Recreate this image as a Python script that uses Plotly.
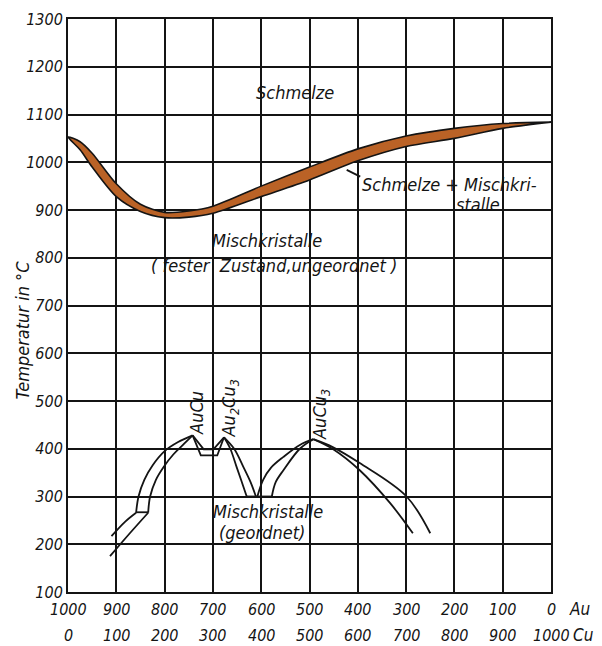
import plotly.graph_objects as go

# ---------------- data ----------------
x_ticks_cu = [0, 100, 200, 300, 400, 500, 600, 700, 800, 900, 1000]
x_labels_au = ["1000", "900", "800", "700", "600", "500", "400", "300", "200", "100", "0"]
x_labels_cu = ["0", "100", "200", "300", "400", "500", "600", "700", "800", "900", "1000"]
y_ticks = [100, 200, 300, 400, 500, 600, 700, 800, 900, 1000, 1100, 1200, 1300]

band_cu = [0, 25, 50, 100, 150, 200, 250, 300, 400, 500, 600, 700, 800, 900, 1000]
liquidus = [1053, 1043, 1019, 955, 912, 895, 898, 908, 950, 990, 1028, 1055, 1071, 1081, 1084]
solidus = [1053, 1026, 990, 928, 897, 884, 885, 893, 928, 963, 1003, 1033, 1050, 1071, 1084]

# ordered-phase boundaries (Cu per mille, temperature)
aucu_left_outer_cu = [141, 146, 158, 175, 200, 228, 258]
aucu_left_outer_t = [266, 300, 335, 365, 395, 414, 428]
aucu_left_inner_cu = [166, 170, 182, 198, 218, 240, 258]
aucu_left_inner_t = [266, 300, 335, 362, 388, 410, 428]
step_cu = [141, 166]
step_t = [267, 267]
tail_upper_cu = [141, 118, 90]
tail_upper_t = [266, 247, 217]
tail_lower_cu = [166, 128, 87]
tail_lower_t = [266, 223, 175]
v_outer_cu = [258, 275, 309, 323]
v_outer_t = [428, 386, 386, 424]
v_inner_cu = [258, 281, 301, 323]
v_inner_t = [428, 399, 399, 424]
d1_cu = [323, 336, 349, 360, 370]
d1_t = [424, 400, 362, 330, 300]
d2_cu = [323, 344, 363, 378, 389]
d2_t = [424, 400, 362, 330, 300]
bottom_cu = [370, 422]
bottom_t = [300, 300]
r1_cu = [392, 404, 420, 446, 480, 508]
r1_t = [300, 335, 360, 383, 408, 420]
r2_cu = [422, 430, 446, 480, 508]
r2_t = [300, 330, 355, 400, 420]
e1_cu = [508, 549, 604, 667, 714]
e1_t = [420, 399, 355, 286, 223]
e2_cu = [508, 549, 604, 701, 750]
e2_t = [420, 403, 370, 300, 223]

leader_cu = [577, 605]
leader_t = [984, 970]

# labels: (text, cu, T, xanchor, angle)
labels = [
    ("Schmelze", 469, 1147, "center", 0),
    ("Schmelze + Mischkri-", 605, 954, "left", 0),
    ("stalle", 800, 912, "left", 0),
    ("Mischkristalle", 411, 837, "center", 0),
    ("( fester  Zustand,ungeordnet )", 426, 783, "center", 0),
    ("AuCu", 266, 476, "center", -90),
    ("Au<sub>2</sub>Cu<sub>3</sub>", 335, 484, "center", -90),
    ("AuCu<sub>3</sub>", 525, 472, "center", -90),
    ("Mischkristalle", 415, 268, "center", 0),
    ("(geordnet)", 401, 224, "center", 0),
]

FONT = "DejaVu Sans Condensed, DejaVu Sans, sans-serif"
INK = "#141414"

fig = go.Figure()

# liquidus / solidus band
fig.add_trace(go.Scatter(
    x=band_cu + band_cu[::-1], y=liquidus + solidus[::-1],
    mode="lines", fill="toself", fillcolor="rgb(186,98,38)",
    line=dict(color=INK, width=1.6, shape="spline", smoothing=0.8),
    hoverinfo="skip", showlegend=False))

curves = [
    (aucu_left_outer_cu, aucu_left_outer_t, "spline"),
    (aucu_left_inner_cu, aucu_left_inner_t, "spline"),
    (step_cu, step_t, "linear"),
    (tail_upper_cu, tail_upper_t, "spline"),
    (tail_lower_cu, tail_lower_t, "spline"),
    (v_outer_cu, v_outer_t, "linear"),
    (v_inner_cu, v_inner_t, "linear"),
    (d1_cu, d1_t, "spline"),
    (d2_cu, d2_t, "spline"),
    (bottom_cu, bottom_t, "linear"),
    (r1_cu, r1_t, "spline"),
    (r2_cu, r2_t, "spline"),
    (e1_cu, e1_t, "spline"),
    (e2_cu, e2_t, "spline"),
    (leader_cu, leader_t, "linear"),
]
for cx, ct, shp in curves:
    fig.add_trace(go.Scatter(x=cx, y=ct, mode="lines",
                             line=dict(color=INK, width=1.8, shape=shp),
                             hoverinfo="skip", showlegend=False))

annotations = []
for txt, cx, ct, xa, ang in labels:
    annotations.append(dict(x=cx, y=ct, xref="x", yref="y", text=txt,
                            showarrow=False, xanchor=xa, yanchor="middle",
                            textangle=ang,
                            font=dict(family=FONT, size=18, color=INK, style="italic")))

for cv, la, lc in zip(x_ticks_cu, x_labels_au, x_labels_cu):
    annotations.append(dict(x=cv, y=0, xref="x", yref="paper", text=la,
                            showarrow=False, xanchor="center", yanchor="middle", yshift=-17,
                            font=dict(family=FONT, size=16, color=INK, style="italic")))
    annotations.append(dict(x=cv, y=0, xref="x", yref="paper", text=lc,
                            showarrow=False, xanchor="center", yanchor="middle", yshift=-43,
                            font=dict(family=FONT, size=16, color=INK, style="italic")))
annotations.append(dict(x=1, y=0, xref="paper", yref="paper", text="Au", showarrow=False,
                        xanchor="left", yanchor="middle", xshift=16, yshift=-17,
                        font=dict(family=FONT, size=17, color=INK, style="italic")))
annotations.append(dict(x=1, y=0, xref="paper", yref="paper", text="Cu", showarrow=False,
                        xanchor="left", yanchor="middle", xshift=20, yshift=-43,
                        font=dict(family=FONT, size=17, color=INK, style="italic")))
annotations.append(dict(x=0, y=0.5, xref="paper", yref="paper", text="Temperatur in °C",
                        showarrow=False, xanchor="center", yanchor="middle", textangle=-90,
                        xshift=-46, yshift=-25,
                        font=dict(family=FONT, size=18, color=INK, style="italic")))

# page body has an 8 px default margin, so the figure is sized to fit the 602x646 window
fig.update_layout(
    width=594, height=638,
    margin=dict(l=60, r=51, t=11, b=54),
    paper_bgcolor="white", plot_bgcolor="white",
    annotations=annotations,
    font=dict(family=FONT, color=INK, style="italic"),
    xaxis=dict(range=[0, 1000], tickvals=x_ticks_cu, showticklabels=False,
               showgrid=True, gridcolor=INK, gridwidth=1.5, zeroline=False, automargin=False,
               showline=True, linecolor=INK, linewidth=2, mirror=True, ticks=""),
    yaxis=dict(range=[100, 1300], tickvals=y_ticks,
               ticktext=[str(v) for v in y_ticks],
               tickfont=dict(family=FONT, size=16, color=INK, style="italic"),
               showgrid=True, gridcolor=INK, gridwidth=1.5, zeroline=False, automargin=False,
               showline=True, linecolor=INK, linewidth=2, mirror=True, ticks=""),
)

fig.write_html("out.html", default_width="594px", default_height="638px")
